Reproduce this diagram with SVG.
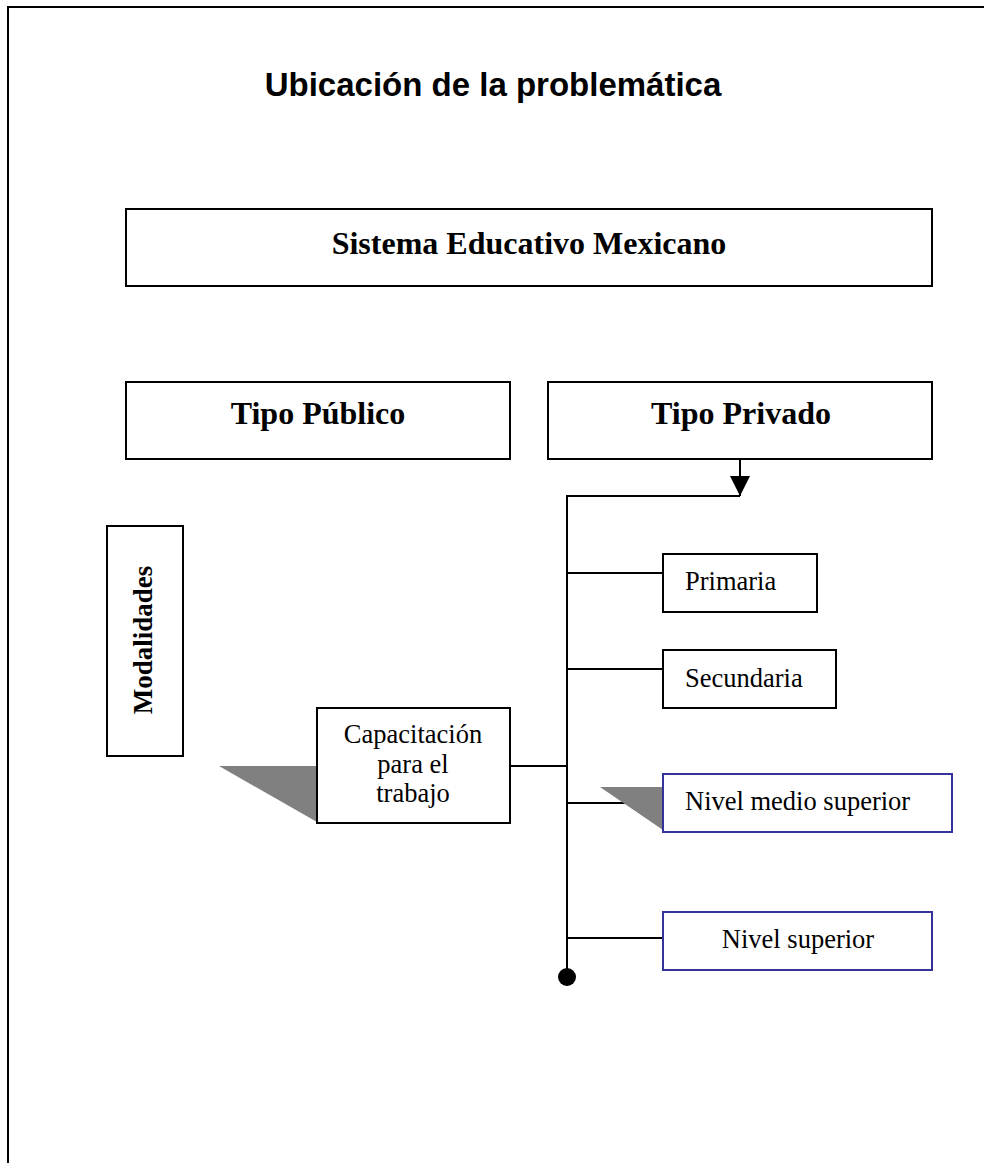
<svg xmlns="http://www.w3.org/2000/svg" width="984" height="1163" viewBox="0 0 984 1163">
<defs>
<style>
.box{fill:#fff;stroke:#000;stroke-width:2}
.blue{fill:#fff;stroke:#333399;stroke-width:2}
.ln{fill:none;stroke:#000;stroke-width:2}
.tb{font-family:"Liberation Serif","Times New Roman",serif;font-weight:bold;font-size:32px;fill:#000}
.tr{font-family:"Liberation Serif","Times New Roman",serif;font-size:26.5px;fill:#000}
.shadow{fill:#808080}
</style>
<marker id="arr" viewBox="0 0 20 20" refX="20" refY="10" markerWidth="20" markerHeight="20" markerUnits="userSpaceOnUse" orient="auto">
<path d="M0,0 L20,10 L0,20 Z" fill="#000"/>
</marker>
</defs>
<rect width="984" height="1163" fill="#fff"/>
<path d="M8,1163 V7 H984" fill="none" stroke="#000" stroke-width="2"/>
<text x="493" y="96" text-anchor="middle" font-family="'Liberation Sans',Arial,sans-serif" font-weight="bold" font-size="33px" fill="#000">Ubicación de la problemática</text>

<g id="connectors">
<line class="ln" x1="740" y1="459" x2="740" y2="496" marker-end="url(#arr)"/>
<path class="ln" d="M740,496 H567 V977"/>
<line class="ln" x1="567" y1="573" x2="663" y2="573"/>
<line class="ln" x1="567" y1="669" x2="663" y2="669"/>
<line class="ln" x1="510" y1="766" x2="567" y2="766"/>
<line class="ln" x1="567" y1="803" x2="663" y2="803"/>
<line class="ln" x1="567" y1="938" x2="663" y2="938"/>
<circle cx="567" cy="977" r="9" fill="#000"/>
</g>

<g id="sistema">
<rect class="box" x="126" y="209" width="806" height="77"/>
<text class="tb" x="529" y="254" text-anchor="middle">Sistema Educativo Mexicano</text>
</g>
<g id="publico">
<rect class="box" x="126" y="382" width="384" height="77"/>
<text class="tb" x="318" y="424" text-anchor="middle">Tipo Público</text>
</g>
<g id="privado">
<rect class="box" x="548" y="382" width="384" height="77"/>
<text class="tb" x="741" y="424" text-anchor="middle">Tipo Privado</text>
</g>
<g id="modalidades">
<rect class="box" x="107" y="526" width="76" height="230"/>
<text class="tb" style="font-size:27px" x="0" y="0" text-anchor="middle" transform="translate(152,640) rotate(-90)">Modalidades</text>
</g>
<g id="capacitacion">
<polygon class="shadow" points="219,766 317,766 317,822"/>
<rect class="box" x="317" y="708" width="193" height="115"/>
<text class="tr" x="413" y="743" text-anchor="middle">Capacitación</text>
<text class="tr" x="413" y="773" text-anchor="middle">para el</text>
<text class="tr" x="413" y="802" text-anchor="middle">trabajo</text>
</g>
<g id="primaria">
<rect class="box" x="663" y="554" width="154" height="58"/>
<text class="tr" x="685" y="590">Primaria</text>
</g>
<g id="secundaria">
<rect class="box" x="663" y="650" width="173" height="58"/>
<text class="tr" x="685" y="687">Secundaria</text>
</g>
<g id="medio">
<polygon class="shadow" points="600,787 663,787 663,830"/>
<rect class="blue" x="663" y="774" width="289" height="58"/>
<text class="tr" x="685" y="810">Nivel medio superior</text>
</g>
<g id="superior">
<rect class="blue" x="663" y="912" width="269" height="58"/>
<text class="tr" x="798" y="948" text-anchor="middle">Nivel superior</text>
</g>
</svg>
